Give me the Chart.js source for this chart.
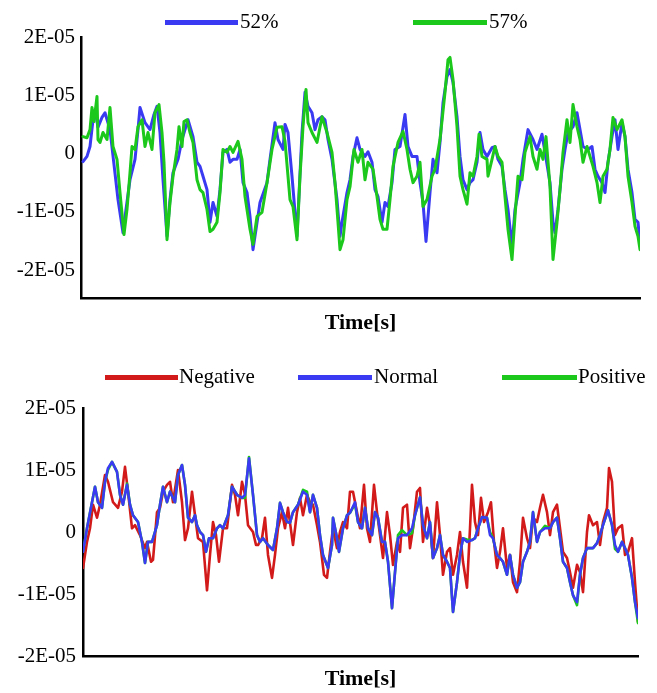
<!DOCTYPE html>
<html><head><meta charset="utf-8">
<script src="https://cdn.jsdelivr.net/npm/chart.js@4.4.0/dist/chart.umd.min.js"></script>
<style>
html,body{margin:0;padding:0;background:#fff;}
body{width:657px;height:693px;position:relative;overflow:hidden;font-family:"Liberation Serif","Times New Roman",serif;}
.wrap{position:absolute;left:0;width:657px;}
.sw{position:absolute;height:5px;}
.lt{position:absolute;font-size:21px;line-height:21px;color:#000;white-space:nowrap;}
</style></head><body>
<div class="wrap" style="top:0;height:337px"><canvas id="c1" width="657" height="337"></canvas></div>
<div class="wrap" style="top:345px;height:348px"><canvas id="c2" width="657" height="348"></canvas></div>
<div id="leg"></div>
<script>
// ---- tick labels (values in units of 1E-05) ----
const yTickValues = [-2, -1, 0, 1, 2];
const yTickLabels = ['-2E-05', '-1E-05', '0', '1E-05', '2E-05'];

// ---- top panel: 52% / 57% (time in s, value in units of 1E-05) ----
const t52 = [0.02,0.06,0.09,0.12,0.14,0.17,0.21,0.24,0.29,0.33,0.37,0.42,0.45,0.49,0.54,0.57,0.59,0.64,0.69,0.73,0.76,0.79,0.82,0.86,0.89,0.92,0.97,1.01,1.04,1.07,1.12,1.16,1.19,1.22,1.26,1.29,1.32,1.36,1.39,1.42,1.46,1.49,1.52,1.56,1.59,1.62,1.66,1.69,1.72,1.79,1.86,1.89,1.94,1.97,2.02,2.04,2.07,2.11,2.16,2.21,2.24,2.27,2.31,2.34,2.37,2.41,2.44,2.47,2.51,2.56,2.59,2.61,2.66,2.69,2.72,2.76,2.79,2.84,2.87,2.91,2.94,2.97,3.01,3.04,3.07,3.11,3.14,3.19,3.24,3.27,3.31,3.36,3.39,3.42,3.45,3.49,3.52,3.56,3.59,3.62,3.66,3.69,3.72,3.76,3.79,3.82,3.86,3.89,3.92,3.96,3.99,4.02,4.06,4.11,4.14,4.17,4.21,4.24,4.27,4.31,4.34,4.39,4.42,4.47,4.52,4.56,4.61,4.64,4.69,4.72,4.74,4.77,4.81,4.84,4.87,4.92,4.96,4.99,5.02,5.07,5.11,5.14,5.17,5.21,5.24,5.27,5.31,5.34,5.37,5.41,5.44,5.47,5.51,5.54,5.57,5.59];
const v52 = [-0.14,-0.05,0.12,0.58,0.75,0.45,0.62,0.70,0.41,-0.19,-0.79,-1.36,-0.96,-0.45,-0.10,0.41,0.79,0.53,0.41,0.67,0.81,0.36,-0.45,-1.42,-0.79,-0.33,-0.10,0.24,0.41,0.58,0.29,-0.15,-0.22,-0.39,-0.62,-1.18,-0.84,-1.08,-0.62,0.02,0.07,-0.15,-0.10,-0.10,0.07,-0.50,-0.67,-1.08,-1.65,-0.84,-0.50,-0.10,0.53,0.24,0.07,0.50,0.36,-0.39,-1.42,0.36,1.05,0.81,0.70,0.41,0.58,0.63,0.58,0.24,-0.10,-0.79,-1.42,-1.18,-0.67,-0.45,-0.05,0.27,0.07,-0.05,0.03,-0.15,-0.62,-0.74,-1.18,-0.84,-0.91,-0.50,0.07,0.12,0.67,0.12,-0.05,-0.05,-0.50,-0.84,-1.51,-0.67,-0.10,-0.33,0.19,0.87,1.32,1.44,1.22,0.63,-0.05,-0.45,-0.62,-0.50,-0.45,-0.15,0.36,0.07,-0.05,0.10,0.12,-0.10,-0.22,-0.62,-0.96,-1.60,-0.96,-0.50,-0.10,0.41,0.24,0.07,0.33,0.02,-0.50,-1.18,-1.36,-0.96,-0.27,0.07,0.36,0.46,0.70,0.41,0.12,0.07,0.12,-0.27,-0.39,-0.50,-0.67,-0.15,0.29,0.58,0.07,0.53,0.29,-0.27,-0.67,-1.13,-1.18,-1.53];
const t57 = [0.02,0.06,0.09,0.11,0.13,0.16,0.17,0.19,0.22,0.26,0.29,0.32,0.36,0.39,0.43,0.46,0.49,0.51,0.54,0.57,0.61,0.64,0.67,0.71,0.74,0.78,0.81,0.83,0.86,0.89,0.92,0.96,0.98,1.01,1.03,1.06,1.09,1.12,1.16,1.19,1.22,1.26,1.29,1.32,1.36,1.39,1.42,1.46,1.49,1.52,1.57,1.61,1.64,1.69,1.72,1.76,1.81,1.86,1.91,1.96,2.01,2.04,2.09,2.12,2.16,2.19,2.22,2.25,2.27,2.31,2.36,2.41,2.46,2.51,2.54,2.57,2.59,2.62,2.66,2.69,2.73,2.77,2.81,2.84,2.87,2.92,2.96,2.99,3.02,3.06,3.09,3.12,3.17,3.22,3.26,3.29,3.32,3.36,3.39,3.42,3.46,3.51,3.54,3.59,3.64,3.67,3.69,3.72,3.76,3.79,3.82,3.86,3.89,3.92,3.96,3.98,4.01,4.06,4.07,4.11,4.14,4.17,4.21,4.24,4.27,4.31,4.34,4.37,4.41,4.44,4.49,4.52,4.56,4.59,4.62,4.65,4.69,4.72,4.76,4.79,4.82,4.86,4.89,4.92,4.96,4.99,5.02,5.06,5.09,5.12,5.16,5.19,5.22,5.26,5.29,5.32,5.36,5.41,5.44,5.47,5.51,5.54,5.57,5.59];
const v57 = [0.29,0.27,0.41,0.79,0.55,0.98,0.24,0.19,0.36,0.24,0.79,0.12,-0.10,-0.67,-1.39,-0.96,-0.33,0.12,0.07,0.46,0.58,0.12,0.36,0.07,0.70,0.84,0.36,-0.15,-1.48,-0.84,-0.39,0.07,0.46,0.12,0.55,0.58,0.36,0.19,-0.45,-0.62,-0.67,-0.96,-1.34,-1.30,-1.18,-0.67,0.07,0.02,0.12,0.02,0.21,-0.10,-0.74,-1.30,-1.56,-1.08,-1.01,-0.50,0.07,0.45,0.46,0.21,-0.79,-0.91,-1.48,-0.39,0.46,1.10,0.53,0.36,0.19,0.63,0.36,0.02,-0.50,-1.18,-1.65,-1.48,-0.79,-0.57,0.07,-0.15,0.07,-0.45,-0.15,-0.27,-0.74,-1.13,-1.30,-1.30,-0.79,-0.22,0.19,0.38,0.07,-0.27,-0.50,-0.39,-0.15,-0.91,-0.79,-0.39,-0.27,0.24,1.05,1.61,1.65,1.27,0.46,-0.39,-0.62,-0.87,-0.33,-0.39,-0.05,0.33,-0.05,-0.10,-0.39,-0.10,0.12,-0.05,-0.15,-0.74,-1.30,-1.82,-1.08,-0.39,-0.45,0.02,0.29,-0.05,-0.27,0.07,-0.10,0.29,-0.57,-1.82,-1.18,-0.62,0.02,0.58,0.19,0.84,0.46,0.24,-0.15,0.12,-0.05,-0.22,-0.50,-0.84,-0.39,-0.27,0.07,0.62,0.41,0.58,0.29,-0.39,-0.84,-1.25,-1.42,-1.65];

// ---- bottom panel: Negative / Normal / Positive ----
const tNeg = [0.00,0.04,0.07,0.10,0.14,0.17,0.22,0.25,0.30,0.35,0.39,0.42,0.45,0.49,0.52,0.57,0.62,0.64,0.68,0.70,0.74,0.77,0.80,0.84,0.87,0.90,0.95,0.99,1.02,1.05,1.09,1.12,1.15,1.20,1.24,1.27,1.30,1.33,1.36,1.40,1.44,1.49,1.52,1.55,1.59,1.62,1.65,1.70,1.73,1.75,1.79,1.82,1.85,1.89,1.92,1.95,1.99,2.02,2.05,2.10,2.14,2.17,2.20,2.24,2.27,2.30,2.34,2.37,2.41,2.44,2.47,2.50,2.54,2.57,2.60,2.64,2.67,2.70,2.74,2.77,2.81,2.84,2.87,2.91,2.94,2.97,3.00,3.04,3.07,3.10,3.14,3.17,3.20,3.24,3.27,3.30,3.34,3.37,3.40,3.44,3.47,3.50,3.54,3.57,3.60,3.64,3.67,3.70,3.74,3.77,3.80,3.84,3.87,3.89,3.92,3.95,3.98,4.01,4.05,4.08,4.11,4.14,4.17,4.20,4.24,4.27,4.30,4.34,4.37,4.40,4.44,4.47,4.50,4.54,4.57,4.60,4.64,4.67,4.70,4.74,4.77,4.80,4.84,4.87,4.90,4.94,4.97,5.00,5.04,5.06,5.10,5.14,5.17,5.20,5.24,5.26,5.29,5.32,5.35,5.39,5.42,5.45,5.49,5.52,5.55];
const vNeg = [-0.58,-0.16,0.06,0.44,0.23,0.44,0.92,0.81,0.48,0.39,0.65,1.05,0.65,0.06,0.11,-0.05,-0.26,-0.16,-0.48,-0.45,0.32,0.39,0.65,0.76,0.81,0.48,1.00,0.48,-0.13,0.06,0.65,0.27,-0.10,-0.16,-0.94,-0.37,0.16,-0.05,-0.48,0.06,0.06,0.76,0.60,0.27,0.81,0.60,0.11,0.00,-0.21,-0.21,-0.10,0.23,-0.37,-0.74,-0.37,0.06,0.32,0.06,0.39,-0.21,0.32,0.55,0.27,0.60,0.48,0.44,0.11,-0.16,-0.69,-0.74,-0.32,0.06,-0.26,0.00,0.16,0.06,0.65,0.65,0.32,0.06,0.76,0.06,-0.16,0.76,0.32,-0.05,-0.42,0.32,-0.05,-0.53,-0.16,-0.32,0.39,0.44,-0.26,0.06,0.65,0.71,-0.16,0.39,0.11,-0.42,0.48,-0.05,-0.69,-0.32,-0.26,-0.69,-0.37,0.00,-0.48,-0.90,0.06,0.76,0.16,-0.05,0.55,0.16,0.32,0.48,-0.16,-0.58,-0.32,0.06,-0.58,-0.37,-0.81,-0.97,-0.48,0.23,-0.10,-0.26,0.23,0.16,0.39,0.60,0.32,-0.05,0.32,0.44,0.06,-0.32,-0.42,-0.65,-0.90,-0.53,-0.65,-0.97,0.00,0.27,0.11,0.16,-0.21,0.16,0.39,1.03,0.81,-0.05,0.06,0.11,-0.37,-0.32,-0.10,-0.81,-1.45];
const tNorm = [0.00,0.04,0.09,0.12,0.15,0.19,0.22,0.25,0.29,0.34,0.37,0.40,0.44,0.47,0.50,0.55,0.59,0.62,0.65,0.69,0.74,0.77,0.80,0.84,0.87,0.92,0.95,0.99,1.02,1.05,1.09,1.12,1.14,1.17,1.20,1.23,1.26,1.30,1.34,1.37,1.40,1.45,1.49,1.54,1.59,1.62,1.66,1.70,1.74,1.77,1.80,1.85,1.90,1.94,1.97,2.00,2.04,2.07,2.10,2.15,2.20,2.24,2.27,2.30,2.34,2.37,2.40,2.45,2.49,2.50,2.54,2.56,2.60,2.64,2.67,2.72,2.75,2.79,2.82,2.85,2.89,2.92,2.95,2.99,3.02,3.05,3.09,3.12,3.15,3.19,3.24,3.29,3.32,3.37,3.40,3.44,3.47,3.50,3.54,3.57,3.60,3.64,3.67,3.70,3.74,3.77,3.80,3.84,3.89,3.92,3.95,3.99,4.04,4.07,4.10,4.14,4.17,4.20,4.24,4.27,4.30,4.34,4.37,4.40,4.44,4.47,4.50,4.54,4.57,4.62,4.67,4.70,4.74,4.77,4.80,4.84,4.87,4.90,4.94,4.97,5.00,5.04,5.07,5.10,5.14,5.17,5.20,5.25,5.29,5.32,5.35,5.39,5.42,5.45,5.49,5.52,5.55];
const vNorm = [-0.32,0.06,0.48,0.73,0.48,0.39,0.81,1.03,1.13,0.97,0.60,0.44,0.76,0.44,0.27,0.16,-0.16,-0.50,-0.16,-0.16,0.11,0.44,0.73,0.48,0.65,0.48,0.92,1.08,0.76,0.23,0.16,0.27,0.11,0.00,-0.05,-0.32,-0.10,-0.10,0.06,0.11,0.06,0.27,0.73,0.60,0.55,0.60,1.19,0.60,-0.05,-0.16,-0.10,-0.21,-0.29,0.06,0.47,0.32,0.16,0.15,0.32,0.44,0.65,0.60,0.32,0.60,0.39,-0.05,-0.37,-0.58,-0.21,0.23,-0.10,-0.32,0.06,0.27,0.31,0.48,0.16,0.06,0.39,0.06,-0.05,0.32,0.23,-0.16,-0.16,-0.48,-1.23,-0.65,-0.10,-0.05,-0.05,0.06,0.27,0.56,0.11,-0.10,0.16,-0.42,-0.26,-0.05,-0.37,-0.48,-0.58,-1.29,-0.81,-0.37,-0.10,-0.16,-0.13,-0.10,0.06,0.24,0.23,-0.05,-0.10,-0.37,-0.42,-0.48,-0.69,-0.37,-0.69,-0.90,-0.81,-0.48,-0.32,-0.16,0.32,-0.16,0.00,0.06,0.06,0.16,0.23,-0.10,-0.48,-0.58,-0.81,-1.02,-1.13,-0.69,-0.42,-0.26,-0.26,-0.26,-0.18,-0.05,0.11,0.35,0.11,-0.21,-0.32,-0.16,-0.26,-0.37,-0.74,-1.13,-1.39];
const tPos = tNorm;
const vPos = [-0.32,0.06,0.48,0.73,0.48,0.39,0.81,1.00,1.13,0.97,0.60,0.44,0.78,0.44,0.27,0.16,-0.16,-0.50,-0.16,-0.16,0.11,0.44,0.73,0.48,0.65,0.48,0.92,1.08,0.76,0.23,0.16,0.27,0.11,0.00,-0.05,-0.32,-0.10,-0.10,0.06,0.11,0.06,0.27,0.73,0.60,0.55,0.55,1.21,0.60,-0.05,-0.16,-0.10,-0.21,-0.29,0.06,0.47,0.32,0.16,0.15,0.32,0.44,0.68,0.65,0.32,0.60,0.39,-0.05,-0.37,-0.58,-0.21,0.23,-0.10,-0.32,0.06,0.27,0.31,0.45,0.16,0.06,0.39,0.06,-0.05,0.32,0.23,-0.16,-0.16,-0.48,-1.23,-0.65,-0.05,0.03,-0.05,-0.02,0.27,0.56,0.11,-0.10,0.16,-0.42,-0.26,-0.05,-0.37,-0.48,-0.58,-1.29,-0.81,-0.37,-0.10,-0.12,-0.13,-0.10,0.06,0.24,0.23,0.00,-0.10,-0.37,-0.42,-0.48,-0.69,-0.37,-0.69,-0.90,-0.81,-0.48,-0.32,-0.16,0.32,-0.16,0.00,0.10,0.06,0.16,0.23,-0.10,-0.48,-0.58,-0.81,-1.02,-1.18,-0.69,-0.42,-0.26,-0.26,-0.26,-0.18,-0.05,0.11,0.35,0.11,-0.27,-0.32,-0.16,-0.26,-0.37,-0.74,-1.13,-1.47];

const seriesTop = [
  {label:'52%', t:t52, v:v52, color:'#3a3af2', order:1},
  {label:'57%', t:t57, v:v57, color:'#1cc81c', order:0}
];
const seriesBottom = [
  {label:'Negative', t:tNeg, v:vNeg, color:'#d21a1a', order:2},
  {label:'Normal', t:tNorm, v:vNorm, color:'#3a3af2', order:0},
  {label:'Positive', t:tPos, v:vPos, color:'#1cc81c', order:1}
];

const FONT = '"Liberation Serif", "Times New Roman", serif';
function pts(t, v){ const n=Math.min(t.length,v.length); const a=[]; for(let i=0;i<n;i++) a.push({x:t[i], y:v[i]}); return a; }

function makeChart(id, series, cfg){
  return new Chart(document.getElementById(id), {
    type:'line',
    data:{datasets: series.map(s=>({label:s.label, data:pts(s.t,s.v), borderColor:s.color, backgroundColor:s.color, borderWidth:cfg.lw, pointRadius:0, tension:0, fill:false, order:s.order, borderJoinStyle:'round', borderCapStyle:'round'}))},
    options:{
      responsive:false, animation:false, events:[],
      layout:{padding:{top:cfg.padTop, right:cfg.padRight, left:0, bottom:0}},
      plugins:{legend:{display:false}, tooltip:{enabled:false}},
      scales:{
        x:{type:'linear', min:0, max:cfg.xMax,
           grid:{display:false, drawTicks:false},
           border:{display:true, color:'#000', width:2.5},
           ticks:{display:false},
           title:{display:true, text:'Time[s]', color:'#000', padding:0, font:{family:FONT, size:22, weight:'bold'}},
           afterFit(s){ s.height = cfg.xH; }},
        y:{type:'linear', min:cfg.yMin, max:2,
           afterBuildTicks(s){ s.ticks = yTickValues.map(v=>({value:v})); },
           grid:{display:false, drawTicks:false},
           border:{display:true, color:'#000', width:2.5},
           ticks:{color:'#000', padding:cfg.tickPad, font:{family:FONT, size:21},
                  callback:(val, i)=> yTickLabels[yTickValues.indexOf(val)] ?? ''},
           afterFit(s){ s.width = cfg.yW; }}
      }
    }
  });
}

makeChart('c1', seriesTop, {lw:3, padTop:37, padRight:17, xMax:5.59, xH:39, yMin:-2.48, yW:81, tickPad:6});
makeChart('c2', seriesBottom, {lw:2.6, padTop:63, padRight:19, xMax:5.55, xH:37, yMin:-2, yW:83, tickPad:7});

// ---- HTML legends ----
const legTop = [{x:165, w:73, tx:240, y:22}, {x:413, w:74, tx:489, y:22}];
const legBot = [{x:105, w:73, tx:179, y:377}, {x:298, w:74, tx:374, y:377}, {x:502, w:75, tx:578, y:377}];
const L = document.getElementById('leg');
function addLeg(series, pos){
  series.forEach((s,i)=>{
    const p = pos[i];
    const sw = document.createElement('div'); sw.className='sw';
    sw.style.cssText += `left:${p.x}px;top:${p.y-2.5}px;width:${p.w}px;background:${s.color};`;
    const tx = document.createElement('div'); tx.className='lt'; tx.textContent = s.label;
    tx.style.left = p.tx+'px'; tx.style.top = (p.y-11)+'px';
    L.appendChild(sw); L.appendChild(tx);
  });
}
addLeg(seriesTop, legTop);
addLeg(seriesBottom, legBot);
</script>
</body></html>
